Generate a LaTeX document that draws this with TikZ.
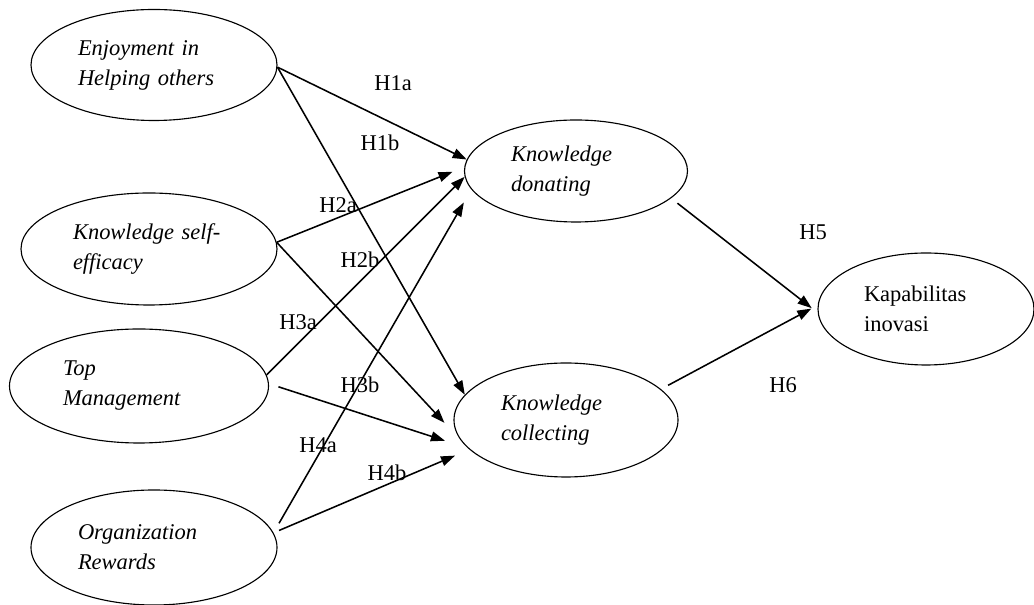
\documentclass[tikz,border=0pt]{standalone}
\usepackage{fontspec}
\setmainfont{Liberation Serif}
\usepackage{tikz}
\usetikzlibrary{arrows.meta, positioning, shapes.geometric}

\begin{document}
\begin{tikzpicture}[
  construct/.style={ellipse, draw, line width=0.8pt, inner sep=0pt, align=left,
    font=\fontsize{16}{21.3}\selectfont\itshape},
  link/.style={line width=1.1pt, -{Triangle[length=10pt, width=7pt]}},
  hyp/.style={font=\fontsize{16}{20}\selectfont, inner sep=0pt}
]
\useasboundingbox (0,0) rectangle (25.85,15.125);

% Exogenous constructs (left column)
\node[construct, minimum width=6.15cm, minimum height=2.775cm, text width=3.8cm] (enjoy) at (3.85,13.5) {Enjoyment in\\Helping others};
\node[construct, minimum width=6.4cm, minimum height=2.8cm, text width=3.8cm] (selfeff) at (3.725,8.9) {Knowledge self-\\efficacy};
\node[construct, minimum width=6.475cm, minimum height=2.85cm, text width=3.8cm] (topmgmt) at (3.475,5.475) {Top\\Management};
\node[construct, minimum width=6.15cm, minimum height=2.875cm, text width=3.8cm] (orgrew) at (3.85,1.4375) {Organization\\Rewards};

% Knowledge sharing (middle column)
\node[construct, minimum width=5.575cm, minimum height=2.55cm, text width=3.25cm] (donate) at (14.4,10.85) {Knowledge\\donating};
\node[construct, minimum width=5.6cm, minimum height=2.85cm, text width=3.25cm] (collect) at (14.15,4.625) {Knowledge\\collecting};

% Outcome
\node[construct, minimum width=5.4cm, minimum height=2.8cm, text width=3.1cm,
  font=\fontsize{16}{21.3}\selectfont] (kapab) at (23.15,7.4) {Kapabilitas\\inovasi};

% ---- HYPOTHESIS PATHS ----
\draw[link] (enjoy.-1) -- (donate.174);
\draw[link] (enjoy.-1) -- (collect.166);
\draw[link, shorten >=0.315cm] (selfeff.3) -- (donate.178);
\draw[link, shorten >=0.6cm] (selfeff.3) -- (collect.191);
\draw[link] (topmgmt.5) -- (donate.183);
\draw[link, shorten <=0.25cm, shorten >=0.6cm] (topmgmt.1) -- (collect.196);
\draw[link, shorten <=0.275cm, shorten >=0.375cm] (orgrew.7) -- (donate.190);
\draw[link, shorten <=0.15cm, shorten >=0.39cm] (orgrew.7) -- (collect.197);
\draw[link, shorten <=0.2cm, shorten >=0.19cm] (donate.-16) -- (kapab.182);
\draw[link, shorten <=0.2cm, shorten >=0.18cm] (collect.18) -- (kapab.178);

% ---- LABELS ----
\node[hyp] (h1a) at (9.825,13.05) {H1a};
\node[hyp] (h1b) at (9.5,11.55) {H1b};
\node[hyp] (h2a) at (8.45,10.0) {H2a};
\node[hyp] (h2b) at (9.0,8.625) {H2b};
\node[hyp] (h3a) at (7.45,7.075) {H3a};
\node[hyp] (h3b) at (9.0,5.5) {H3b};
\node[hyp] (h4a) at (7.95,4.0) {H4a};
\node[hyp] (h4b) at (9.675,3.3) {H4b};
\node[hyp] (h5) at (20.325,9.325) {H5};
\node[hyp] (h6) at (19.575,5.5) {H6};

\end{tikzpicture}
\end{document}
